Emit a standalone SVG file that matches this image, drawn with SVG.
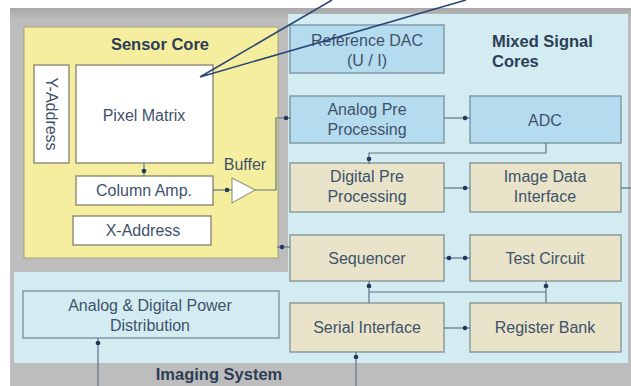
<svg xmlns="http://www.w3.org/2000/svg" width="631" height="386" viewBox="0 0 631 386">
<defs>
<style>
.t{font-family:"Liberation Sans",Arial,sans-serif;font-size:16px;fill:#40526a;text-anchor:middle}
.b{font-family:"Liberation Sans",Arial,sans-serif;font-size:16.5px;font-weight:bold;fill:#2c3d55}
.blue{fill:#b5dbee;stroke:#7f9ca9;stroke-width:1.5}
.tan{fill:#e9e4c9;stroke:#8c9a9c;stroke-width:1.5}
.wht{fill:#ffffff;stroke:#948f78;stroke-width:1.5}
.pwr{fill:#d3ecf2;stroke:#7f9ca9;stroke-width:1.5}
.c{fill:none;stroke:#5d7485;stroke-width:1.2}
</style>
<marker id="d" viewBox="0 0 10 10" refX="7" refY="5" markerWidth="10" markerHeight="10" markerUnits="userSpaceOnUse" orient="auto">
<circle cx="2" cy="5" r="2.3" fill="#24385a"/>
</marker>
<marker id="ds" viewBox="0 0 10 10" refX="3" refY="5" markerWidth="10" markerHeight="10" markerUnits="userSpaceOnUse" orient="auto">
<circle cx="8" cy="5" r="2.3" fill="#24385a"/>
</marker>
<linearGradient id="g" x1="0" y1="0" x2="0" y2="1">
<stop offset="0" stop-color="#a9a9a9"/>
<stop offset="0.03" stop-color="#bdbdbd"/>
<stop offset="1" stop-color="#bdbdbd"/>
</linearGradient>
</defs>
<rect x="0" y="0" width="631" height="386" fill="#ffffff"/>
<g id="imaging-system">
<rect x="10" y="8" width="621" height="378" fill="url(#g)"/>
<rect x="288" y="14" width="340" height="349" fill="#d3ecf2"/>
<rect x="14" y="272" width="614" height="91" fill="#d3ecf2"/>
<text class="b" x="219" y="380" text-anchor="middle">Imaging System</text>
</g>
<g id="sensor-core">
<rect x="24" y="27" width="254" height="231" fill="#f5ee9e" stroke="#a5a27a" stroke-width="1"/>
<text class="b" x="160" y="50" text-anchor="middle">Sensor Core</text>
</g>
<g id="mixed-signal">
<text class="b" x="492" y="47">Mixed Signal</text>
<text class="b" x="492" y="67">Cores</text>
</g>
<g id="y-address">
<rect class="wht" x="34" y="65" width="35" height="98"/>
<text class="t" transform="translate(51,114) rotate(90)" y="5.5">Y-Address</text>
</g>
<g id="pixel-matrix">
<rect class="wht" x="76" y="65" width="137" height="98"/>
<text class="t" x="144" y="121">Pixel Matrix</text>
</g>
<g id="column-amp">
<rect class="wht" x="76" y="176" width="137" height="29"/>
<text class="t" x="144" y="196">Column Amp.</text>
</g>
<g id="x-address">
<rect class="wht" x="73" y="216" width="138" height="29"/>
<text class="t" x="143" y="236">X-Address</text>
</g>
<g id="buffer">
<polygon points="232,178 255,190 232,203" fill="#ffffff" stroke="#9a9a86" stroke-width="1.2"/>
<text class="t" x="245" y="170">Buffer</text>
</g>
<g id="reference-dac">
<rect class="blue" x="290" y="25" width="154" height="48"/>
<text class="t" x="367" y="46">Reference DAC</text>
<text class="t" x="367" y="66">(U / I)</text>
</g>
<g id="analog-pre">
<rect class="blue" x="290" y="96" width="154" height="47"/>
<text class="t" x="367" y="115">Analog Pre</text>
<text class="t" x="367" y="135">Processing</text>
</g>
<g id="adc">
<rect class="blue" x="470" y="96" width="151" height="47"/>
<text class="t" x="545" y="126">ADC</text>
</g>
<g id="digital-pre">
<rect class="tan" x="290" y="163" width="154" height="49"/>
<text class="t" x="367" y="182">Digital Pre</text>
<text class="t" x="367" y="202">Processing</text>
</g>
<g id="image-data">
<rect class="tan" x="470" y="163" width="151" height="49"/>
<text class="t" x="545" y="182">Image Data</text>
<text class="t" x="545" y="202">Interface</text>
</g>
<g id="sequencer">
<rect class="tan" x="290" y="235" width="154" height="46"/>
<text class="t" x="367" y="264">Sequencer</text>
</g>
<g id="test-circuit">
<rect class="tan" x="470" y="235" width="151" height="46"/>
<text class="t" x="545" y="264">Test Circuit</text>
</g>
<g id="serial-interface">
<rect class="tan" x="290" y="303" width="154" height="49"/>
<text class="t" x="367" y="333">Serial Interface</text>
</g>
<g id="register-bank">
<rect class="tan" x="470" y="303" width="151" height="49"/>
<text class="t" x="545" y="333">Register Bank</text>
</g>
<g id="power">
<rect class="pwr" x="23" y="291" width="256" height="47"/>
<text class="t" x="150" y="311">Analog &amp; Digital Power</text>
<text class="t" x="150" y="331">Distribution</text>
</g>
<g id="connectors">
<path class="c" d="M144,163 V176" marker-end="url(#d)"/>
<path class="c" d="M213,190 H232" marker-end="url(#d)"/>
<path class="c" d="M255,190 H276 V118 H291" marker-end="url(#d)"/>
<path class="c" d="M444,118 H470" marker-end="url(#d)"/>
<path class="c" d="M546,143 V153 H369 V164" marker-end="url(#d)"/>
<path class="c" d="M444,188 H470" marker-end="url(#d)"/>
<path class="c" d="M621,188 H631"/>
<path class="c" d="M444,258 H470" marker-start="url(#ds)" marker-end="url(#d)"/>
<path class="c" d="M290,247 H277" marker-end="url(#d)"/>
<path class="c" d="M369,303 V281" marker-end="url(#d)"/>
<path class="c" d="M546,303 V281" marker-end="url(#d)"/>
<path class="c" d="M369,292 H546"/>
<path class="c" d="M444,328 H470" marker-end="url(#d)"/>
<path class="c" d="M98,386 V338" stroke="#3f4f62" marker-end="url(#d)"/>
<path class="c" d="M356,386 V352" stroke="#3f4f62" marker-end="url(#d)"/>
<path d="M200,77 L332,0 M200,77 L466,0" fill="none" stroke="#2b4877" stroke-width="1.6"/>
</g>
</svg>
